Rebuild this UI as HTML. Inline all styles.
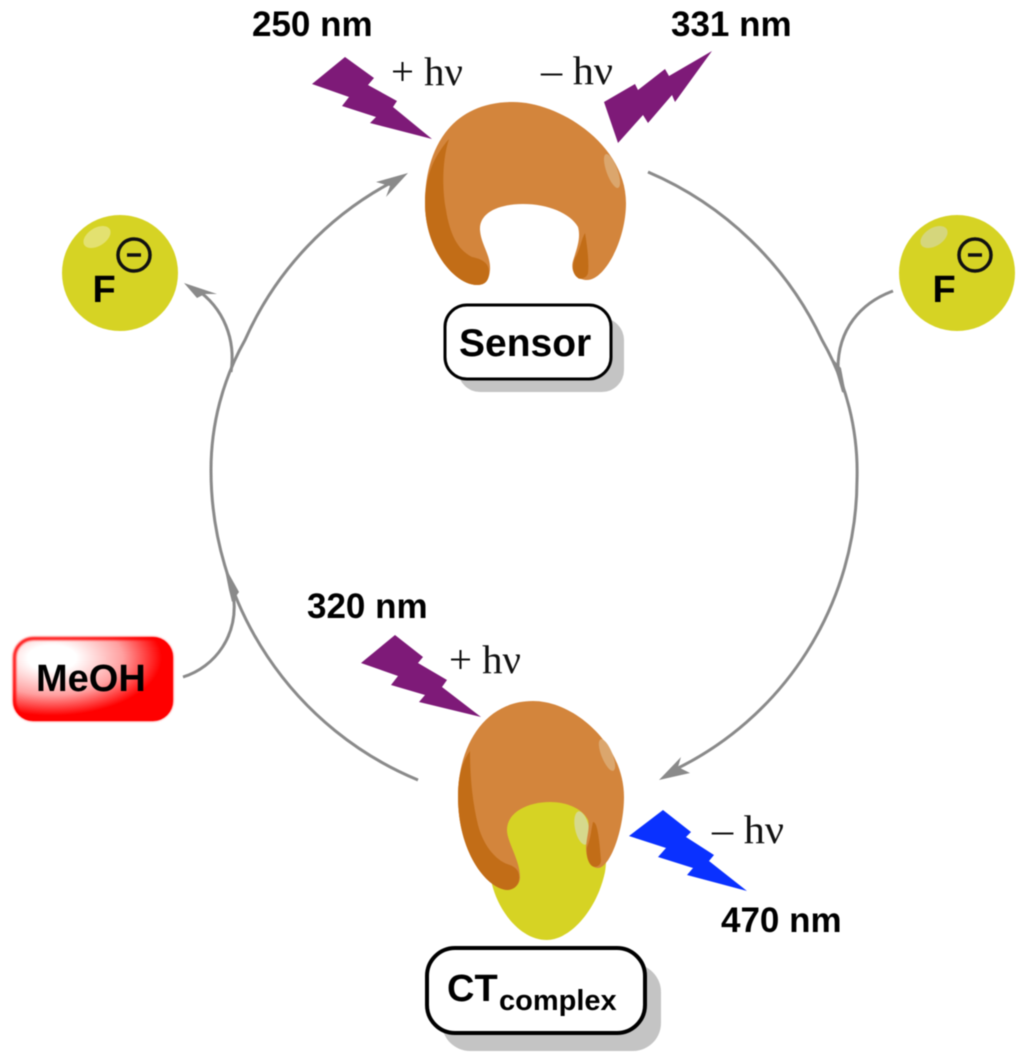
<!DOCTYPE html>
<html>
<head>
<meta charset="utf-8">
<style>
html,body{margin:0;padding:0;background:#fff;width:1024px;height:1057px;overflow:hidden}
svg{display:block;position:absolute;left:0;top:0;filter:blur(0.5px)}
.b{font-family:"Liberation Sans",sans-serif;font-weight:bold;fill:#000}
.s{font-family:"Liberation Serif",serif;fill:#111}
</style>
</head>
<body>
<svg width="1024" height="1057" viewBox="0 0 1024 1057" xmlns="http://www.w3.org/2000/svg">
<defs>
<radialGradient id="red" gradientUnits="userSpaceOnUse" cx="0" cy="0" r="1" gradientTransform="translate(52 658) scale(122 64)">
<stop offset="0" stop-color="#fff"/>
<stop offset="0.2" stop-color="#fff"/>
<stop offset="0.58" stop-color="#ffa0a0"/>
<stop offset="0.9" stop-color="#ff0000"/>
</radialGradient>
<filter id="soft" x="-10%" y="-10%" width="120%" height="120%"><feGaussianBlur stdDeviation="1"/></filter>
</defs>

<!-- main cycle -->
<g fill="none" stroke="#8a8a8a" stroke-width="3">
<path d="M648 172 A340 340 0 0 1 822 340 A265 265 0 0 1 857 480 A323 323 0 0 1 672 771"/>
<path d="M418 780 A335 335 0 0 1 211 470 A265 265 0 0 1 245 340 A330 330 0 0 1 396 180"/>
<path d="M893 291 C860 303 838 330 838 368"/>
<path d="M231 372 C236 340 224 308 196 289"/>
<path d="M183 677 C215 667 240 635 233 592"/>
</g>
<g fill="#8a8a8a">
<polygon points="408,173 376,182 390,186 386,197"/>
<polygon points="659,780 681,757 678,767 690,773"/>
<polygon points="184,283 217,294 205,294 197,298"/>
<polygon points="832,358 841,368 846,394 842,392"/>
<polygon points="224,565 239,592 232,602 229,590"/>
</g>

<!-- bolts -->
<g fill="#7e1a78">
<polygon points="345,57 374,78 368,85 397,101 393,107 432,139 370,123 376,117 342,106 349,97 312,84"/>
<polygon points="712,51 675,102 672,95 648,123 643,115 618,143 604,102 635,84 638,90 665,69 669,76"/>
<polygon points="395,635 423,657 418,663 447,680 442,687 481,717 419,702 425,695 391,685 398,676 361,663"/>
</g>
<polygon fill="#0a31ff" points="663,810 691,832 686,837 714,855 709,861 747,891 687,875 693,868 658,857 666,848 629,836"/>

<!-- sensor blob -->
<path fill="#d3853c" d="M513 102 C560 102 626 145 626 203 C626 240 605 280 587 280 C577 280 570 272 573 261 C577 248 581 238 578 227 C570 213 548 204 523 204 C498 204 479 213 480 230 C481 245 491 255 490 270 C489 282 484 285 477 285 C455 285 425 250 425 203 C425 150 450 102 513 102 Z"/>
<path fill="#c26d17" d="M449 139 C442 160 442 190 446 210 C450 235 458 250 472 257 C482 259 489 263 489 272 C489 282 484 285 477 285 C455 285 425 250 425 203 C425 175 435 155 449 139 Z"/>
<path fill="#c26d17" d="M585 233 C588 250 589 265 588 273 C587 278 580 280 578 278 C572 274 572 266 575 258 C580 250 581 240 585 233 Z"/>
<ellipse cx="612" cy="171" rx="5.5" ry="18" fill="#dba66d" transform="rotate(-20 612 171)"/>

<!-- CT blob -->
<path fill="#d6d324" d="M550 790 C575 790 600 815 603 840 C606 850 607 860 605 872 C597 910 570 940 547 940 C520 940 497 910 491 880 C492 850 495 820 505 810 C515 795 535 790 550 790 Z"/>
<ellipse cx="582" cy="828" rx="7" ry="17" fill="#d6d98c" transform="rotate(-12 582 828)"/>
<path fill="#d3853c" d="M533 701 C575 701 624 745 624 797 C624 830 610 868 598 868 C590 868 586 858 586 847 C587 835 590 828 588 820 C582 808 566 802 550 802 C528 802 507 812 507 830 C507 842 520 860 520 877 C520 886 512 890 507 890 C485 888 458 850 458 797 C458 745 485 701 533 701 Z"/>
<path fill="#c26d17" d="M470 751 C470 775 472 800 478 825 C484 848 498 862 510 865 C517 868 520 872 519 880 C518 887 512 890 507 890 C485 888 458 850 458 797 C458 780 460 765 470 751 Z"/>
<path fill="#c26d17" d="M593 822 C597 822 599 835 601 860 C601 866 596 868 592 866 C587 862 586 852 587 847 C591 838 591 830 593 822 Z"/>
<ellipse cx="607" cy="755" rx="5.5" ry="17" fill="#dba66d" transform="rotate(-22 607 755)"/>

<!-- F- circles -->
<circle cx="120" cy="273" r="58" fill="#d6d324"/>
<ellipse cx="97" cy="237" rx="15" ry="9" fill="#e3e170" transform="rotate(-32 97 237)"/>
<text class="b" x="92.5" y="302" font-size="38">F</text>
<circle cx="134" cy="255" r="16" fill="none" stroke="#111" stroke-width="3.5"/>
<line x1="127" y1="255" x2="141" y2="255" stroke="#111" stroke-width="3.5"/>

<circle cx="957" cy="273" r="58" fill="#d6d324"/>
<ellipse cx="934" cy="237" rx="15" ry="9" fill="#d5d67c" transform="rotate(-32 934 237)"/>
<text class="b" x="932.5" y="302" font-size="38">F</text>
<circle cx="975" cy="255" r="16" fill="none" stroke="#111" stroke-width="3.5"/>
<line x1="968" y1="255" x2="982" y2="255" stroke="#111" stroke-width="3.5"/>

<!-- MeOH -->
<rect x="13" y="637" width="160" height="84" rx="20" fill="url(#red)"/>
<rect x="14.5" y="638.5" width="157" height="81" rx="19" fill="none" stroke="#ff0000" stroke-width="3" filter="url(#soft)"/>
<text class="b" x="36" y="691" font-size="38">MeOH</text>

<!-- Sensor label -->
<rect x="458" y="318" width="166" height="74" rx="22" fill="#c4c4c4"/>
<rect x="445" y="305" width="166" height="74" rx="22" fill="#fff" stroke="#000" stroke-width="3"/>
<text class="b" x="459" y="356" font-size="39">Sensor</text>

<!-- CT label -->
<rect x="442" y="964" width="219" height="87" rx="28" fill="#c4c4c4"/>
<rect x="427" y="948" width="218" height="85" rx="28" fill="#fff" stroke="#000" stroke-width="4"/>
<text class="b" x="447" y="1001" font-size="38">CT</text>
<text class="b" x="499" y="1010" font-size="29">complex</text>

<!-- nm labels -->
<text class="b" x="252" y="36" font-size="35">250 nm</text>
<text class="b" x="671" y="36" font-size="35">331 nm</text>
<text class="b" x="307" y="618" font-size="35">320 nm</text>
<text class="b" x="721" y="932" font-size="35">470 nm</text>

<!-- hv labels -->
<text class="s" x="391" y="85" font-size="40" textLength="72" lengthAdjust="spacingAndGlyphs">+ hν</text>
<text class="s" x="541" y="84" font-size="40" textLength="72" lengthAdjust="spacingAndGlyphs">– hν</text>
<text class="s" x="449" y="673" font-size="40" textLength="72" lengthAdjust="spacingAndGlyphs">+ hν</text>
<text class="s" x="712" y="843" font-size="40" textLength="72" lengthAdjust="spacingAndGlyphs">– hν</text>
</svg>
</body>
</html>
